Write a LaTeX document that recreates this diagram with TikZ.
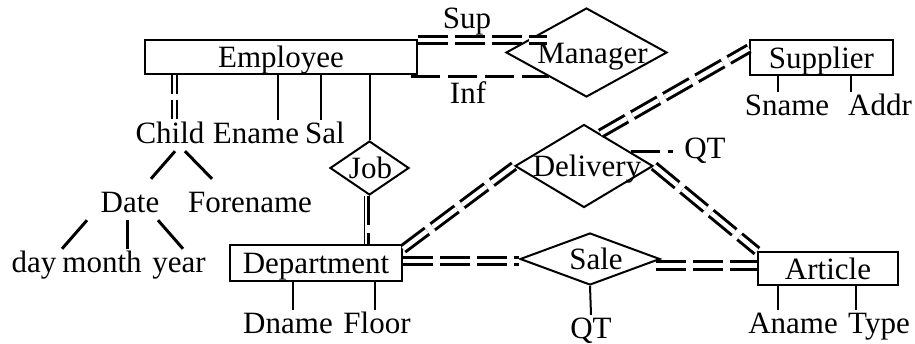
\documentclass[tikz,border=0pt]{standalone}
\usepackage{fontspec}
\setmainfont{Liberation Serif}
\usepackage{tikz}
\usetikzlibrary{shapes.geometric}
\newcommand\erfont{\fontsize{31}{33}\selectfont}
\newcommand\rtext[2]{\makebox[0pt]{\hspace*{#1}#2}}
\tikzset{
  entity/.style={draw, line width=2pt, inner sep=0pt, text height=22pt, text depth=1pt, font=\erfont},
  relation/.style={draw, diamond, line width=2pt, inner sep=0pt, text height=22pt, text depth=1pt, font=\erfont},
  attr/.style={anchor=base, inner sep=2pt, text height=21pt, text depth=6pt, font=\erfont},
  link/.style={line width=2pt},
  branch/.style={line width=3pt},
  twolines/.style={double, line width=3pt, double distance=4.5pt, dash pattern=on 30pt off 7pt},
  thintwo/.style={double, line width=1.5pt, double distance=3.5pt, dash pattern=on 19pt off 6pt},
  oneline/.style={line width=3pt, dash pattern=on 29pt off 8pt}
}

\begin{document}
\begin{tikzpicture}[x=1pt,y=-1pt]
  \useasboundingbox (0,0) rectangle (915,343);

  \node[entity, minimum width=272pt, minimum height=34pt] (Employee) at (281,57) {Employee};
  \node[entity, minimum width=143pt, minimum height=35pt] (Supplier) at (821.5,57.5) {Supplier};
  \node[entity, minimum width=172pt, minimum height=36pt] (Department) at (316,263) {Department};
  \node[entity, minimum width=140pt, minimum height=33pt] (Article) at (828,268.5) {Article};

  \node[relation, minimum width=161pt, minimum height=89pt] (Manager) at (586.5,52.5) {\rtext{12pt}{Manager}};
  \node[relation, minimum width=138pt, minimum height=83pt] (Delivery) at (584,166) {\rtext{6pt}{Delivery}};
  \node[relation, minimum width=79pt, minimum height=54pt] (Job) at (369.5,168) {\rtext{2pt}{Job}};
  \node[relation, minimum width=140pt, minimum height=52pt] (Sale) at (590,259) {\rtext{12pt}{Sale}};

  \node[attr] (Child) at (170,143) {Child};
  \node[attr] (Ename) at (256,143) {Ename};
  \node[attr] (Sal) at (325,143) {Sal};
  \node[attr] (Date) at (130,212) {Date};
  \node[attr] (Forename) at (250,212) {Forename};
  \node[attr] (day) at (34,272) {day};
  \node[attr] (month) at (102,272) {month};
  \node[attr] (year) at (179,272) {year};
  \node[attr] (Dname) at (288,333) {Dname};
  \node[attr] (Floor) at (377,333) {Floor};
  \node[attr] (Sname) at (787,115) {Sname};
  \node[attr] (Addr) at (880,115) {Addr};
  \node[attr] (Aname) at (793,333) {Aname};
  \node[attr] (Type) at (879,333) {Type};
  \node[attr] (SaleQT) at (591,338) {QT};
  \node[attr] (DelQT) at (705,158) {QT};
  \node[attr] (Sup) at (467,28) {Sup};
  \node[attr] (Inf) at (468,103) {Inf};

  \draw[thintwo] ([xshift=4.5pt]Child.north |- Employee.south) -- ([xshift=4.5pt]Child.north);
  \draw[link] ([xshift=22pt]Ename.north |- Employee.south) -- ([xshift=22pt]Ename.north);
  \draw[link] ([xshift=-4pt]Sal.north |- Employee.south) -- ([xshift=-4pt]Sal.north);
  \draw[link] (Job.north |- Employee.south) -- (Job.north);

  \draw[branch] ([xshift=5pt]Child.south) -- ([xshift=21pt,yshift=10pt]Date.north);
  \draw[branch] ([xshift=15pt]Child.south) -- ([xshift=-38pt,yshift=10pt]Forename.north);
  \draw[branch] ([xshift=-43pt]Date.south) -- ([xshift=28pt]day.north);
  \draw[branch] ([xshift=-3pt]Date.south) -- ([xshift=25pt]month.north);
  \draw[branch] ([xshift=28pt]Date.south) -- ([xshift=4pt]year.north);

  \draw[line width=1.2pt] ([xshift=-5pt]Job.south) -- ([xshift=-5pt]Job.south |- Department.north);
  \draw[oneline] ([xshift=-1pt]Job.south) -- ([xshift=-1pt]Job.south |- Department.north);

  \draw[link] ([xshift=5pt]Dname.north |- Department.south) -- ([xshift=5pt]Dname.north);
  \draw[link] ([xshift=-2pt]Floor.north |- Department.south) -- ([xshift=-2pt]Floor.north);
  \draw[link] ([xshift=-9pt]Sname.north |- Supplier.south) -- ([xshift=-9pt]Sname.north);
  \draw[link] ([xshift=-29pt]Addr.north |- Supplier.south) -- ([xshift=-29pt]Addr.north);
  \draw[link] ([xshift=-15pt]Aname.north |- Article.south) -- ([xshift=-15pt]Aname.north);
  \draw[link] ([xshift=-23pt]Type.north |- Article.south) -- ([xshift=-23pt]Type.north);
  \draw[link] (Sale.south) -- (SaleQT.north);
  \draw[oneline] (Delivery.17) -- ([xshift=-9pt]DelQT.west |- Delivery.17);

  \draw[twolines] ([yshift=-1pt]Employee.north east) -- ([xshift=42pt,yshift=-1pt]Employee.north east -| Manager.west);
  \draw[oneline] ([xshift=-7pt]Employee.east |- Manager.213) -- (Manager.213);
  \draw[twolines] (Delivery.63) -- ([yshift=9pt]Supplier.west);
  \draw[twolines] ([yshift=-5pt]Department.north east) -- (Delivery.west);
  \draw[twolines] (Delivery.east) -- (Article.north west);
  \draw[twolines] ([yshift=2pt]Department.east) -- ([yshift=2pt]Department.east -| Sale.west);
  \draw[twolines] ([xshift=-5pt,yshift=3pt]Article.west -| Sale.east) -- ([yshift=3pt]Article.west);
\end{tikzpicture}
\end{document}
